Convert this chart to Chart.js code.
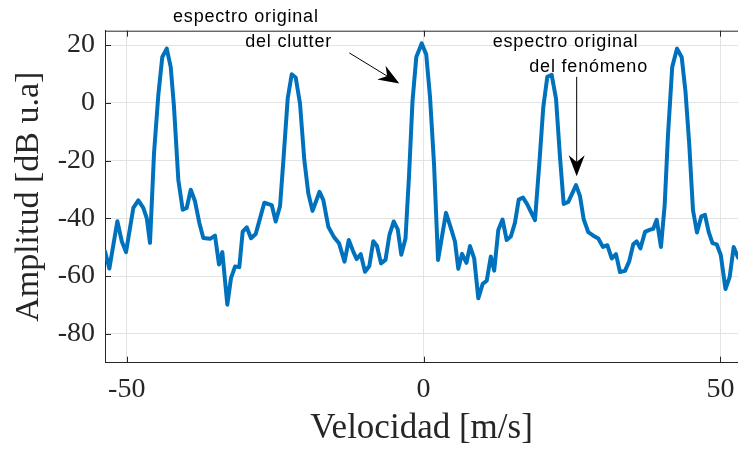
<!DOCTYPE html>
<html lang="es">
<head>
<meta charset="utf-8">
<title>Espectro Doppler</title>
<script src="https://cdn.jsdelivr.net/npm/chart.js@4.4.0/dist/chart.umd.min.js"></script>
<style>
  html, body { margin: 0; padding: 0; background: #ffffff; }
  #chartBox { width: 738px; height: 452px; }
</style>
</head>
<body>
<div id="chartBox"><canvas id="spectrumChart" width="738" height="452"></canvas></div>
<script>
// Velocidad Doppler de cada muestra [m/s]
const velocidad = [
  -53.66, -52.93, -51.58, -50.84, -50.12, -48.89, -48.05, -47.21, -46.63, -46.08,
  -45.40, -44.68, -44.01, -43.26, -42.59, -42.04, -41.31, -40.57, -39.90, -39.22,
  -38.50, -37.77, -37.10, -35.97, -35.13, -34.46, -33.90, -33.06, -32.44, -31.76,
  -31.04, -30.47, -29.79, -29.07, -28.28, -27.55, -26.83, -25.58, -24.91, -24.18,
  -23.63, -22.89, -22.21, -21.54, -20.82, -20.09, -19.42, -18.71, -17.53, -16.89,
  -16.05, -15.09, -14.25, -13.32, -12.60, -11.81, -11.27, -10.59, -9.87, -9.14,
  -8.47, -7.85, -7.17, -6.42, -5.74, -5.04, -4.36, -3.76, -3.05, -2.46,
  -1.87, -1.23, -0.32, 0.44, 1.08, 1.75, 2.43, 3.77, 4.61, 5.29,
  5.84, 6.47, 7.22, 7.81, 8.52, 9.21, 9.95, 10.63, 11.32, 11.89,
  12.58, 13.29, 13.99, 14.69, 15.39, 16.02, 16.74, 17.41, 18.09, 18.76,
  19.49, 20.16, 20.83, 21.57, 22.30, 22.97, 23.59, 24.37, 25.67, 26.34,
  26.96, 27.74, 28.58, 29.42, 30.21, 30.94, 31.68, 32.40, 33.07, 33.92,
  34.64, 35.32, 35.89, 36.51, 37.29, 38.04, 38.68, 39.26, 39.98, 40.60,
  41.16, 41.87, 42.68, 43.47, 44.11, 44.73, 45.37, 46.04, 46.78, 47.39,
  48.01, 48.65, 49.36, 50.05, 50.84, 51.55, 52.22, 52.95
];

// Amplitud del espectro [dB u.a]
const amplitud = [
  -51.4, -57.4, -41.0, -47.9, -51.7, -36.4, -33.8, -36.4, -39.9, -48.5,
  -17.3, 2.7, 15.9, 18.8, 12.4, -1.4, -26.7, -37.0, -36.4, -30.1,
  -34.1, -41.6, -46.8, -47.1, -46.0, -56.0, -51.7, -69.9, -60.7, -56.7,
  -56.9, -44.6, -43.1, -46.9, -45.4, -40.0, -34.6, -35.4, -41.1, -35.7,
  -20.3, 1.5, 9.9, 8.8, -0.2, -19.8, -31.3, -37.4, -30.8, -33.7,
  -42.9, -46.5, -48.6, -55.0, -47.5, -51.7, -54.1, -52.4, -58.5, -56.5,
  -47.9, -49.6, -55.6, -54.4, -45.6, -41.1, -43.8, -52.6, -47.0, -25.4,
  0.6, 15.9, 20.6, 16.8, 2.1, -21.0, -54.4, -38.1, -43.5, -48.1,
  -57.5, -52.3, -55.4, -49.6, -53.9, -67.7, -62.7, -61.6, -53.2, -58.1,
  -44.0, -40.4, -47.5, -46.3, -41.5, -33.5, -32.8, -35.0, -37.8, -40.6,
  -21.0, -1.4, 9.0, 9.7, 1.5, -18.8, -35.0, -34.3, -28.5, -32.3,
  -40.3, -44.8, -46.0, -47.0, -49.9, -49.3, -53.9, -52.4, -58.6, -58.2,
  -54.8, -48.9, -48.0, -50.4, -44.7, -44.0, -43.6, -40.5, -49.9, -35.4,
  -11.1, 12.4, 18.8, 15.8, 3.8, -14.0, -37.2, -44.9, -39.3, -38.8,
  -44.7, -48.6, -49.0, -52.7, -64.5, -60.3, -49.9, -53.6
];

const velocidadTicks = [-50, 0, 50];
const amplitudTicks = [-80, -60, -40, -20, 0, 20];
const velocidadRange = [-53.66, 52.95];
const amplitudRange = [-90, 25];

// Text notes and arrows, placed in data units
const notas = [
  { text: 'espectro original', x: -42.2, y: 27.95 },
  { text: 'del clutter', x: -30.05, y: 19.3 },
  { text: 'espectro original', x: 11.64, y: 19.4 },
  { text: 'del fenómeno', x: 17.8, y: 10.7 }
];
const flechas = [
  { from: [-12.51, 17.3], to: [-4.09, 6.7] },
  { from: [25.78, 9.0], to: [25.78, -25.4] }
];

const axisColor = '#262626';
const serif = '"Liberation Serif", "Times New Roman", serif';

function fixTicks(values) {
  return function (scale) {
    scale.ticks = values.map(v => ({ value: v }));
  };
}

// Filled arrow head with a notched back
function drawArrow(ctx, x1, y1, x2, y2) {
  const ang = Math.atan2(y2 - y1, x2 - x1);
  const dx = Math.cos(ang), dy = Math.sin(ang);
  const len = 21, half = 8, notch = 0.68 * len;
  ctx.beginPath();
  ctx.moveTo(x1, y1);
  ctx.lineTo(x2 - dx * notch, y2 - dy * notch);
  ctx.stroke();
  ctx.beginPath();
  ctx.moveTo(x2, y2);
  ctx.lineTo(x2 - dx * len - dy * half, y2 - dy * len + dx * half);
  ctx.lineTo(x2 - dx * notch, y2 - dy * notch);
  ctx.lineTo(x2 - dx * len + dy * half, y2 - dy * len - dx * half);
  ctx.closePath();
  ctx.fill();
}

// Box outline, inward tick marks and the notes
const decorations = {
  id: 'decorations',
  afterDraw(chart) {
    const { ctx, chartArea: area, scales: { x, y } } = chart;
    ctx.save();
    ctx.strokeStyle = axisColor;
    ctx.lineWidth = 1;
    ctx.beginPath();
    ctx.moveTo(area.left, area.top + 0.5);
    ctx.lineTo(area.right, area.top + 0.5);
    velocidadTicks.forEach(v => {
      const px = Math.round(x.getPixelForValue(v)) + 0.5;
      ctx.moveTo(px, area.bottom);
      ctx.lineTo(px, area.bottom - 6);
      ctx.moveTo(px, area.top);
      ctx.lineTo(px, area.top + 6);
    });
    amplitudTicks.forEach(v => {
      const py = Math.round(y.getPixelForValue(v)) + 0.5;
      ctx.moveTo(area.left, py);
      ctx.lineTo(area.left + 6, py);
    });
    ctx.stroke();

    ctx.fillStyle = '#000000';
    ctx.font = '18px "Liberation Sans", Arial, sans-serif';
    ctx.textAlign = 'left';
    ctx.textBaseline = 'alphabetic';
    ctx.letterSpacing = '0.8px';
    notas.forEach(n => {
      ctx.fillText(n.text, x.getPixelForValue(n.x), y.getPixelForValue(n.y));
    });
    ctx.letterSpacing = '0px';

    ctx.strokeStyle = '#000000';
    ctx.lineWidth = 1;
    flechas.forEach(f => {
      drawArrow(ctx,
        x.getPixelForValue(f.from[0]), y.getPixelForValue(f.from[1]),
        x.getPixelForValue(f.to[0]), y.getPixelForValue(f.to[1]));
    });
    ctx.restore();
  }
};

const ctx = document.getElementById('spectrumChart').getContext('2d');
new Chart(ctx, {
  type: 'line',
  data: {
    datasets: [{
      data: velocidad.map((v, i) => ({ x: v, y: amplitud[i] })),
      borderColor: '#0072BD',
      borderWidth: 4,
      borderJoinStyle: 'round',
      borderCapStyle: 'round',
      pointRadius: 0,
      tension: 0,
      fill: false
    }]
  },
  options: {
    responsive: false,
    devicePixelRatio: 1,
    animation: false,
    layout: { padding: { top: 30.7, right: 0, left: 0, bottom: 0 } },
    plugins: {
      legend: { display: false },
      tooltip: { enabled: false }
    },
    scales: {
      x: {
        type: 'linear',
        min: velocidadRange[0],
        max: velocidadRange[1],
        afterBuildTicks: fixTicks(velocidadTicks),
        afterFit: scale => {
          scale.height = 89.3;
          scale.paddingLeft = 0;
          scale.paddingRight = 0;
        },
        grid: { color: '#e3e3e3', drawTicks: false },
        border: { display: true, color: axisColor, width: 1 },
        ticks: {
          padding: 10,
          color: axisColor,
          font: { family: serif, size: 28, lineHeight: 1.2 },
          maxRotation: 0
        },
        title: {
          display: true,
          text: 'Velocidad [m/s]',
          color: axisColor,
          font: { family: serif, size: 35, lineHeight: 1.2 },
          padding: { top: 0, bottom: 2 }
        }
      },
      y: {
        type: 'linear',
        min: amplitudRange[0],
        max: amplitudRange[1],
        afterBuildTicks: fixTicks(amplitudTicks),
        afterFit: scale => {
          scale.width = 105;
          scale.paddingTop = 0;
          scale.paddingBottom = 0;
        },
        grid: { color: '#e3e3e3', drawTicks: false },
        border: { display: true, color: axisColor, width: 1 },
        ticks: {
          padding: 10,
          color: axisColor,
          font: { family: serif, size: 28, lineHeight: 1.2 }
        },
        title: {
          display: true,
          text: 'Amplitud [dB u.a]',
          color: axisColor,
          font: { family: serif, size: 34, lineHeight: 1.2 },
          padding: { top: 9, bottom: 0 }
        }
      }
    }
  },
  plugins: [decorations]
});
</script>
</body>
</html>
